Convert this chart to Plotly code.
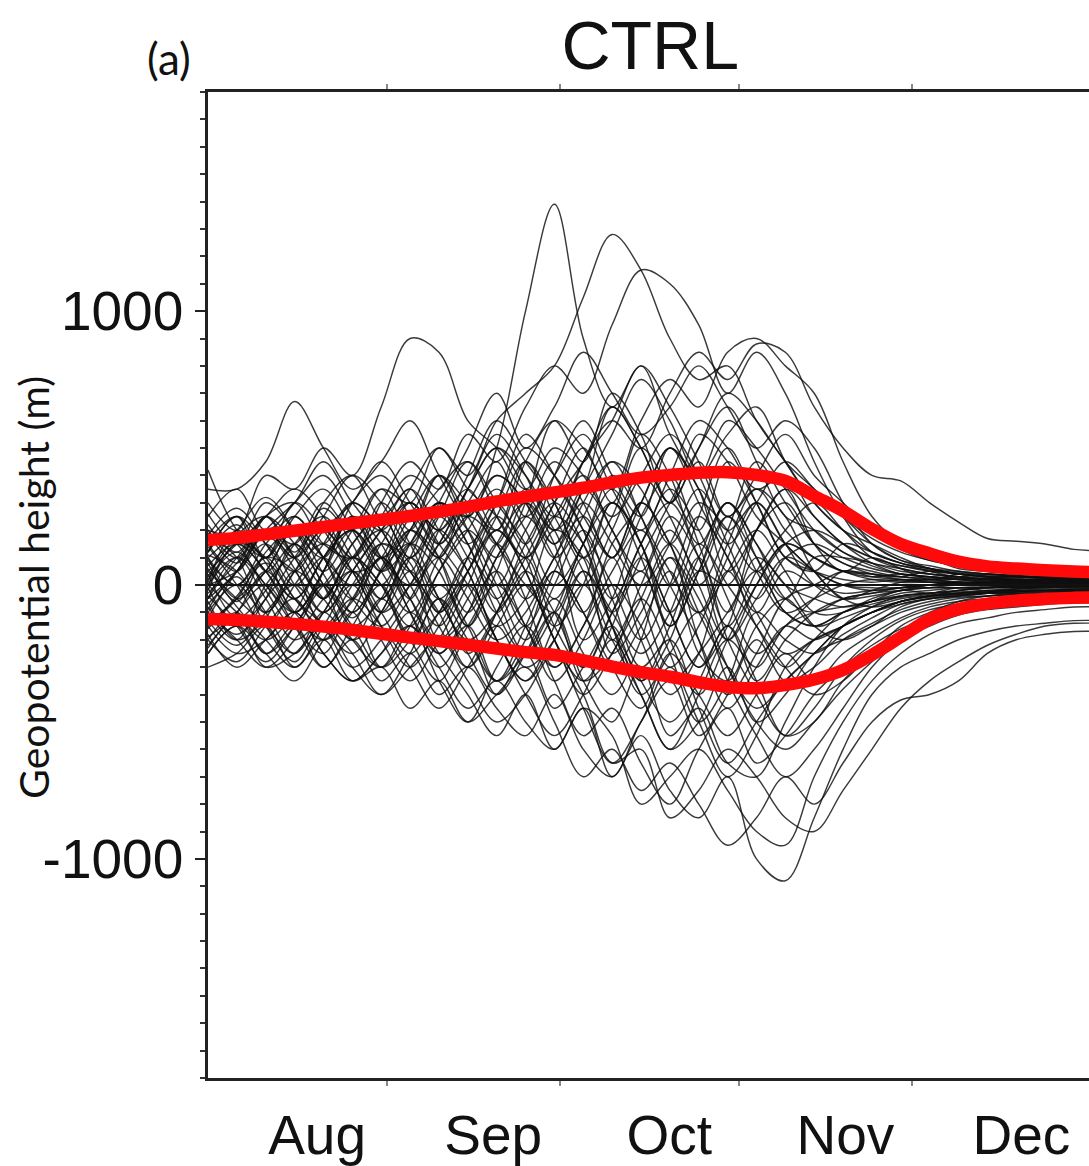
import plotly.graph_objects as go

# ---------------- data ----------------
DAYS = list(range(0, 156, 5))  # days since 1 Aug

MONTHS = ["Aug", "Sep", "Oct", "Nov", "Dec"]
MONTH_START = [0, 31, 61, 92, 122]
MONTH_LEN = [31, 30, 31, 30, 31]
Y_TICKS = [-1000, 0, 1000]
Y_TICK_TEXT = ["-1000", "0", "1000"]

UPPER_RED = [164, 172, 185, 198, 212, 226, 238, 252, 268, 285, 305, 322, 338, 355, 375, 392,
             402, 410, 412, 402, 380, 325, 270, 205, 150, 115, 85, 68, 60, 54, 49, 46]
LOWER_RED = [-124, -128, -134, -142, -152, -164, -178, -192, -205, -218, -232, -245, -255, -275, -298, -318,
             -335, -355, -372, -377, -365, -345, -310, -255, -190, -125, -88, -68, -57, -51, -47, -44]

M01 = [120, 250, 80, -50, 100, 200, 50, 150, 300, 250, 500, 1000, 1390, 900, 650, 800, 550, 400, 600, 500, 350, 200, 120, 80, 60, 40, 30, 20, 10, 20, 10, 10]
M02 = [-50, 100, 200, 150, 300, 200, 350, 300, 500, 400, 600, 700, 800, 1050, 1280, 1150, 900, 750, 800, 600, 450, 300, 200, 150, 100, 60, 40, 30, 20, 20, 15, 15]
M03 = [200, 100, 250, 300, 150, 100, 300, 450, 350, 550, 450, 650, 800, 700, 950, 1150, 1100, 950, 700, 850, 700, 450, 250, 120, 80, 50, 30, 40, 30, 25, 20, 20]
M04 = [300, 200, 400, 350, 500, 400, 650, 900, 850, 600, 500, 350, 500, 400, 250, 400, 550, 400, 200, 300, 150, 50, -50, -20, 10, 20, 10, 0, -10, 0, 0, 0]
M05 = [100, -50, 50, 200, 100, 0, 150, 300, 200, 350, 500, 400, 250, 450, 600, 500, 700, 850, 750, 880, 850, 650, 500, 400, 380, 300, 230, 170, 160, 150, 130, 125]
M06 = [0, 150, 100, -100, 50, 250, 100, 200, 400, 300, 200, 450, 600, 500, 350, 600, 750, 650, 850, 900, 800, 700, 450, 250, 150, 100, 60, 50, 40, 40, 30, 30]
M07 = [-100, -200, 0, 100, -50, 150, 250, 100, 300, 500, 700, 500, 650, 850, 700, 550, 650, 800, 650, 500, 600, 500, 300, 150, 90, 70, 50, 40, 30, 30, 20, 20]
M08 = [350, 350, 450, 670, 500, 350, 450, 600, 400, 250, 400, 300, 100, 250, 450, 350, 150, 300, 200, 50, 150, 100, 50, 30, 40, 30, 20, 10, 20, 10, 10, 10]
L01 = [-200, -100, -250, -150, -300, -200, -350, -250, -400, -300, -450, -550, -400, -600, -700, -550, -750, -850, -700, -1000, -1080, -850, -600, -400, -300, -250, -200, -170, -150, -140, -130, -130]
L02 = [-300, -250, -150, -300, -200, -350, -300, -450, -350, -500, -400, -300, -500, -700, -600, -750, -650, -800, -950, -850, -700, -800, -650, -500, -420, -400, -350, -250, -200, -180, -170, -170]
L03 = [-150, -250, -200, -100, -250, -350, -250, -150, -300, -450, -350, -500, -600, -450, -550, -800, -700, -600, -750, -900, -950, -700, -500, -350, -250, -180, -140, -120, -100, -90, -80, -80]
L04 = [-250, -150, -300, -250, -150, -300, -400, -300, -200, -350, -500, -400, -250, -400, -650, -600, -850, -750, -600, -700, -850, -900, -750, -600, -450, -350, -280, -220, -180, -150, -140, -140]
A01 = [80, -60, 120, 200, 40, -120, 60, 250, 100, -150, 50, 300, 150, -200, -50, 250, 400, 150, -100, 200, 350, 150, 50, 100, 60, 20, 40, 30, 10, 20, 15, 10]
A02 = [-120, 50, 180, 60, -150, -60, 150, 80, -200, -100, 150, -50, -300, -150, 100, -200, -400, -250, 50, -150, -300, -200, -100, -60, -20, -30, -10, -20, -15, -10, -10, -10]
A03 = [200, 150, -20, -150, 50, 250, 150, -50, 200, 350, 200, 450, 300, 100, 250, 500, 350, 200, 450, 300, 100, 50, 150, 120, 80, 60, 50, 40, 35, 30, 30, 30]
A04 = [30, 180, 250, 120, 280, 150, -50, 100, -100, 50, 250, 100, -150, 0, 300, 150, -100, 100, 300, 150, -50, -100, -50, -30, -10, 0, 10, 0, -10, -5, 0, 0]
A05 = [-200, -280, -150, -50, -200, -100, 100, -50, -250, -150, -350, -200, 50, -100, -300, -450, -250, -400, -550, -400, -250, -350, -250, -180, -120, -80, -60, -50, -45, -40, -40, -40]
A06 = [150, 50, 200, 100, 300, 400, 250, 350, 150, 300, 450, 250, 400, 550, 350, 200, 400, 600, 500, 350, 400, 250, 150, 80, 40, 30, 20, 25, 20, 15, 15, 15]
A07 = [-50, 100, 0, -150, -250, -100, -300, -200, 0, -150, -350, -250, -100, -350, -500, -300, -550, -450, -650, -700, -500, -300, -150, -80, -40, -30, -20, -10, -10, -5, -5, -5]
A08 = [100, 200, 320, 200, 50, 200, 350, 200, 400, 250, 100, 300, 600, 450, 700, 550, 300, 450, 250, 350, 200, 100, 50, 40, 30, 50, 40, 30, 30, 25, 25, 25]
A09 = [-80, -180, -50, 150, 0, -200, -100, 100, -50, -250, -400, -250, -450, -300, -150, -350, -150, 100, -200, -400, -550, -500, -350, -250, -150, -100, -60, -40, -30, -30, -30, -30]
A10 = [250, 350, 200, 300, 450, 300, 200, 350, 500, 350, 250, 100, 250, 400, 200, 50, 250, 100, -150, 50, 200, 300, 200, 100, 60, 40, 30, 20, 20, 15, 10, 10]
A11 = [0, -100, -200, -100, 100, 200, 50, -100, 100, 250, 400, 300, 150, 350, 550, 750, 600, 400, 550, 650, 450, 300, 200, 120, 80, 60, 40, 30, 25, 25, 20, 20]
A12 = [-150, -50, 100, 50, -100, 50, 200, 350, 200, 50, -150, -50, 200, 100, -250, -100, 100, -200, -450, -300, -150, -200, -150, -100, -60, -40, -30, -20, -15, -10, -10, -10]
A13 = [180, 100, -100, 50, 150, 50, -150, -300, -150, 0, -200, -400, -550, -400, -200, -400, -600, -500, -300, -500, -400, -250, -200, -150, -100, -70, -50, -40, -35, -30, -25, -25]
A14 = [50, 150, 250, 350, 250, 100, 250, 400, 300, 150, 300, 500, 400, 250, 100, 300, 150, -100, 50, 200, 50, -100, -100, -50, -20, 0, 10, 10, 5, 5, 5, 5]
A15 = [-250, -150, -250, -350, -200, -50, -150, -300, -450, -300, -150, -300, -200, 50, -100, -250, -100, 150, 0, -150, -300, -400, -350, -250, -180, -130, -100, -80, -70, -60, -55, -55]
A16 = [120, 250, 150, 50, 200, 300, 450, 300, 150, 350, 550, 400, 200, 350, 650, 500, 300, 550, 450, 250, 150, 50, 0, -20, -10, 0, 5, 10, 10, 10, 10, 10]
A17 = [-30, 80, 200, 100, -50, 100, 0, -150, 50, 200, 50, -150, 50, 300, 450, 250, 50, -100, 150, 350, 250, 50, -50, -80, -60, -40, -20, -10, -5, 0, 0, 0]
A18 = [60, -80, -200, -300, -150, 0, -200, -350, -200, 0, 200, 50, -200, -350, -150, 100, -100, -300, -150, 100, 0, -150, -200, -150, -80, -50, -40, -30, -25, -20, -20, -20]
A19 = [-100, 0, -100, 50, 200, 100, 300, 150, -50, 100, 300, 550, 400, 200, -50, 150, 350, 200, -50, -250, -150, -50, 50, 30, 20, 20, 10, 10, 10, 10, 5, 5]
A20 = [220, 120, 250, 150, 0, 150, 250, 100, 250, 450, 300, 150, -50, 150, 350, 150, -100, -300, -150, -350, -200, -100, -50, -30, -20, -10, -10, -10, -5, -5, -5, -5]
A21 = [-180, -300, -200, -100, -250, -350, -250, -100, -250, -400, -550, -400, -600, -450, -700, -500, -350, -550, -400, -200, -350, -300, -200, -140, -90, -60, -45, -40, -35, -35, -30, -30]
A22 = [0, 100, -50, -200, -100, 100, 200, 50, -100, -300, -100, 100, 300, 500, 300, 550, 400, 150, 300, 100, -100, -150, -100, -60, -30, -20, -10, -10, -10, -5, -5, -5]
A23 = [140, 0, -150, 0, 150, 300, 200, 50, 250, 100, -100, 50, -100, -300, -100, 50, -200, -400, -200, 0, 150, 100, 50, 20, 10, 10, 10, 5, 5, 5, 5, 5]
A24 = [-60, -200, -120, 50, -50, -200, -300, -150, -350, -500, -300, -150, -350, -550, -450, -650, -800, -600, -450, -650, -550, -400, -300, -220, -160, -120, -100, -80, -70, -65, -60, -60]
A25 = [420, 200, 100, 250, 350, 200, 50, 200, 100, -100, 100, 250, 100, -100, 150, 300, 500, 350, 150, 300, 450, 350, 250, 170, 120, 90, 70, 60, 55, 50, 45, 45]
A26 = [-20, 150, 50, -100, 50, 200, 100, 250, 400, 200, 0, 200, 350, 200, 0, -200, 0, 250, 100, -100, -250, -200, -150, -100, -60, -40, -30, -25, -20, -20, -15, -15]
A27 = [100, 0, 150, 250, 100, -50, 100, -100, -250, -100, 50, -150, -300, -150, 50, 200, 0, -200, -400, -250, -50, 0, 50, 40, 30, 20, 20, 15, 15, 15, 10, 10]
A28 = [-220, -100, 0, -150, -300, -150, 0, -200, -100, 100, -50, -250, -100, -350, -250, 0, 200, 50, 250, 100, -50, 100, 100, 80, 50, 40, 30, 25, 20, 20, 20, 20]
A29 = [50, -50, -150, -250, -100, 50, -100, 0, 200, 50, -200, -350, -150, 50, -150, -350, -500, -350, -150, -350, -550, -450, -300, -200, -130, -90, -70, -55, -50, -45, -40, -40]
A30 = [180, 280, 150, 0, 100, -50, -150, 0, 150, 300, 150, 350, 200, 0, 200, 400, 250, 0, -200, 0, 150, 200, 150, 100, 70, 50, 40, 30, 30, 25, 20, 20]
A31 = [-100, -200, -300, -200, -50, 50, -100, -250, -100, 50, 200, 100, 300, 450, 650, 500, 300, 500, 700, 600, 450, 350, 250, 150, 90, 60, 40, 35, 30, 30, 25, 25]
A32 = [0, 50, 150, 0, -150, -250, -100, 100, 300, 200, 0, -200, 0, 200, -50, -300, -200, -450, -650, -500, -350, -250, -150, -100, -70, -50, -40, -30, -25, -20, -20, -20]
A33 = [120, 220, 100, 300, 200, 50, 100, 300, 200, 400, 600, 450, 300, 100, 300, 150, -150, 50, 300, 150, 0, -50, -80, -60, -40, -30, -20, -10, -10, -10, -5, -5]
A34 = [-140, -50, 50, 200, 100, -100, 50, 150, -50, -200, -100, 50, 250, 150, -150, -400, -250, -100, -350, -550, -700, -600, -450, -300, -200, -150, -110, -90, -80, -70, -65, -65]
A35 = [70, 150, 50, -100, -200, -50, 100, -50, -200, -50, 150, 300, 150, 350, 200, -50, -300, -150, 100, 300, 150, 0, -50, -40, -20, -10, 0, 0, 0, 0, 0, 0]
A36 = [-50, 50, 200, 300, 400, 250, 100, 0, 150, 350, 500, 350, 200, 450, 600, 800, 650, 450, 250, 400, 550, 400, 300, 200, 130, 90, 70, 60, 50, 45, 40, 40]
A37 = [40, -120, -20, 150, 250, 100, -50, 150, 300, 150, -100, -250, -100, 150, 300, 100, -150, 50, 250, 50, -100, -50, 0, 20, 15, 10, 5, 0, 0, 0, 0, 0]
A38 = [-90, 30, -150, -280, -150, -250, -400, -250, -50, -200, -350, -150, 50, -100, -300, -150, 50, -250, -350, -150, -50, -150, -120, -80, -50, -40, -35, -30, -30, -25, -25, -25]
A39 = [260, 150, 300, 200, 100, 300, 400, 250, 100, 250, 150, -50, 100, 300, 150, 0, 150, 350, 150, -50, 100, 150, 100, 60, 40, 30, 25, 20, 15, 15, 15, 15]
A40 = [-160, -40, 80, -50, -150, -300, -200, -50, 100, -50, -200, -100, 100, 250, 100, 300, 500, 300, 100, -100, 50, 0, -30, -20, -10, 0, 0, 5, 5, 5, 5, 5]
A41 = [10, 200, 100, 250, 150, 300, 200, 0, -150, 50, 250, 450, 250, 50, -200, -50, -250, -500, -350, -100, -200, -250, -180, -120, -70, -50, -40, -30, -25, -20, -20, -20]
A42 = [-40, -150, -280, -150, 0, 100, 0, 200, 350, 450, 250, 50, -200, -400, -250, -50, 150, 0, 200, 450, 300, 150, 80, 50, 30, 25, 20, 15, 15, 10, 10, 10]
A43 = [90, 0, 100, -50, -150, 0, 150, 50, -150, -300, -150, 0, -200, -450, -650, -500, -300, -500, -700, -550, -300, -200, -150, -100, -60, -40, -30, -25, -20, -20, -15, -15]
A44 = [-230, -120, -250, -150, 0, -150, -50, 150, 50, -150, 100, 250, 450, 300, 100, 300, 150, -100, -300, -450, -350, -250, -150, -100, -60, -45, -35, -30, -25, -25, -20, -20]
A45 = [160, 250, 50, 150, 0, -150, -300, -150, 50, 200, 350, 200, 0, 150, 400, 250, 0, 250, 500, 300, 100, 50, 20, 10, 20, 15, 10, 10, 10, 5, 5, 5]
A46 = [-10, -150, -50, 100, 250, 400, 300, 150, 300, 150, -50, 150, 300, 150, -150, -350, -200, 50, 0, 200, 300, 150, 80, 40, 20, 10, 5, 5, 0, 0, 0, 0]
A47 = [110, 50, -100, -250, -100, -200, -50, -200, -350, -200, -400, -250, -50, -250, -400, -200, 100, -50, -300, -500, -600, -500, -380, -280, -190, -130, -95, -75, -65, -55, -50, -50]
A48 = [-70, 50, 200, 100, 200, 50, -100, 50, -100, 100, 300, 150, 400, 600, 400, 250, 500, 350, 50, 200, 350, 250, 150, 100, 70, 55, 45, 40, 35, 30, 30, 30]
A49 = [190, 80, 250, 100, -50, 100, 0, -200, -50, -250, -100, 100, -150, -300, -100, 150, 300, 100, -200, -50, 100, 50, 0, -10, -10, -10, -10, -5, -5, -5, -5, -5]
A50 = [-130, -220, -100, 0, -100, 50, 200, 300, 150, 0, -200, -350, -200, 0, -200, -400, -600, -400, -200, -300, -150, -100, -80, -60, -40, -30, -25, -20, -20, -15, -15, -15]
A51 = [20, 120, 0, -100, 0, -100, 50, 200, 100, 300, 150, 0, -100, 100, -100, 100, 300, 500, 650, 450, 250, 200, 120, 70, 40, 30, 25, 20, 20, 15, 15, 15]
A52 = [-190, -100, 50, -50, 100, 250, 100, -100, -300, -150, 0, -150, -350, -200, 0, -150, -350, -250, -100, 50, -100, -150, -100, -70, -45, -35, -30, -25, -20, -20, -20, -20]

MEMBERS = [M01, M02, M03, M04, M05, M06, M07, M08, L01, L02, L03, L04,
           A01, A02, A03, A04, A05, A06, A07, A08, A09, A10, A11, A12,
           A13, A14, A15, A16, A17, A18, A19, A20, A21, A22, A23, A24,
           A25, A26, A27, A28, A29, A30, A31, A32, A33, A34, A35, A36,
           A37, A38, A39, A40, A41, A42, A43, A44, A45, A46, A47, A48,
           A49, A50, A51, A52]

# ---------------- figure ----------------
W, H = 1089, 1166
ML, MR, MT, MB = 208, 0, 92, 88

fig = go.Figure()
for m in MEMBERS:
    fig.add_trace(go.Scatter(x=DAYS, y=m, mode="lines",
                             line=dict(color="rgba(15,15,15,0.82)", width=1.45, shape="spline", smoothing=1.0),
                             hoverinfo="skip", showlegend=False))

fig.add_hline(y=0, line_color="#111", line_width=2, layer="above")

for red in (UPPER_RED, LOWER_RED):
    fig.add_trace(go.Scatter(x=DAYS, y=red, mode="lines",
                             line=dict(color="#ff0a0a", width=12.5, shape="spline", smoothing=1.0),
                             hoverinfo="skip", showlegend=False))

label_pos = [s + l / 2 + 3.4 for s, l in zip(MONTH_START, MONTH_LEN)]
boundaries = MONTH_START[1:]

tick_font = dict(family="Liberation Sans, Arial, sans-serif", size=55, color="#111")

fig.update_layout(
    width=W, height=H,
    margin=dict(l=ML, r=MR, t=MT, b=MB, pad=0, autoexpand=False),
    paper_bgcolor="white", plot_bgcolor="white",
    title=dict(text="CTRL", x=0.502, xref="paper", xanchor="center",
               y=1 - 45 / H, yref="container", yanchor="middle",
               font=dict(family="Liberation Sans, Arial, sans-serif", size=68, color="#111")),
    xaxis=dict(range=[0, 152.6], showgrid=False, zeroline=False, automargin=False,
               showline=True, linecolor="#222", linewidth=2.5, mirror="ticks",
               tickmode="array", tickvals=label_pos, ticktext=MONTHS, ticks="",
               tickfont=tick_font, ticklabelstandoff=7,
               minor=dict(tickmode="array", tickvals=boundaries, ticks="outside",
                          ticklen=5, tickwidth=2, tickcolor="#888")),
    yaxis=dict(range=[-1800, 1800], showgrid=False, zeroline=False, automargin=False,
               showline=True, linecolor="#222", linewidth=2.5, mirror=False,
               tickmode="array", tickvals=Y_TICKS, ticktext=Y_TICK_TEXT,
               ticks="outside", ticklen=10, tickwidth=2, tickcolor="#222",
               tickfont=tick_font, ticklabelstandoff=1,
               minor=dict(dtick=100, tick0=0, ticks="outside", ticklen=5, tickwidth=2, tickcolor="#333")),
    annotations=[
        dict(text="(a)", xref="paper", yref="paper", x=(169 - ML) / (W - ML - MR),
             y=1 + (MT - 58) / (H - MT - MB), xanchor="center", yanchor="middle",
             showarrow=False, font=dict(family="Lato, Carlito, sans-serif", size=44, color="#111")),
        dict(text="Geopotential height (m)", xref="paper", yref="paper",
             x=(33 - ML) / (W - ML - MR), y=(H - MB - 588) / (H - MT - MB),
             xanchor="center", yanchor="middle", textangle=-90, showarrow=False,
             font=dict(family="Lato, Carlito, sans-serif", size=41, color="#111")),
    ],
)

fig.write_html("out.html")
